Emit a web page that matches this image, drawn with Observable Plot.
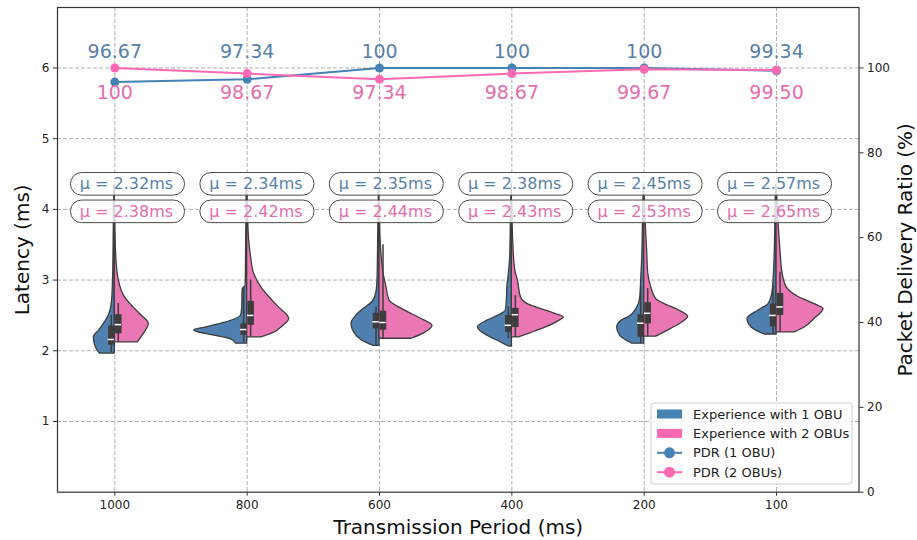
<!DOCTYPE html>
<html>
<head>
<meta charset="utf-8">
<script src="https://cdn.jsdelivr.net/npm/d3@7"></script>
<script src="https://cdn.jsdelivr.net/npm/@observablehq/plot@0.6"></script>
<style>
  html, body { margin: 0; padding: 0; background: #fff; overflow: hidden; }
  #chart { position: relative; width: 917px; height: 540px; }
</style>
</head>
<body>
<div id="chart"></div>
<script>
// ---------------- data ----------------
const periods = ["1000", "800", "600", "400", "200", "100"];
const pdr1 = [96.67, 97.34, 100, 100, 100, 99.34];
const pdr2 = [100, 98.67, 97.34, 98.67, 99.67, 99.50];
const mean1 = [2.32, 2.34, 2.35, 2.38, 2.45, 2.57];
const mean2 = [2.38, 2.42, 2.44, 2.43, 2.53, 2.65];
const latencyTicks = [1, 2, 3, 4, 5, 6];
const pdrTicks = [0, 20, 40, 60, 80, 100];
const legendLabels = ["Experience with 1 OBU", "Experience with 2 OBUs", "PDR (1 OBU)", "PDR (2 OBUs)"];

// box stats: [whisker low, q1, median, q3, whisker high] (ms)
const box1 = [
  [1.97, 2.08, 2.16, 2.35, 2.50],
  [2.12, 2.22, 2.30, 2.38, 2.90],
  [2.08, 2.31, 2.41, 2.53, 2.62],
  [2.17, 2.26, 2.36, 2.50, 2.62],
  [2.10, 2.19, 2.39, 2.51, 2.90],
  [2.23, 2.34, 2.50, 2.66, 2.92]
];
const box2 = [
  [2.12, 2.24, 2.37, 2.51, 2.67],
  [2.20, 2.36, 2.50, 2.70, 3.00],
  [2.17, 2.29, 2.40, 2.56, 3.50],
  [2.19, 2.33, 2.51, 2.60, 2.78],
  [2.20, 2.38, 2.53, 2.68, 2.88],
  [2.26, 2.50, 2.62, 2.81, 3.11]
];

// density profiles: [latency (ms), density]
const kde1 = [
  [[1.96,15],[2.05,19],[2.19,21],[2.29,15.5],[2.38,11],[2.5,6],[2.71,2.7],[3.0,1.8],[3.5,1.2],[4.0,0.8],[4.35,0.4]],
  [[2.10,11],[2.16,16],[2.21,31],[2.27,51],[2.29,53],[2.33,41],[2.39,24],[2.45,11],[2.5,6],[2.6,5],[2.87,4.5],[2.92,1.5],[3.5,1],[4.0,0.7],[4.35,0.4]],
  [[2.07,6],[2.15,18],[2.25,25],[2.38,28],[2.5,23],[2.6,15],[2.69,7],[2.83,3],[3.0,2],[3.4,1.5],[4.0,1],[4.35,0.4]],
  [[2.06,3],[2.12,11],[2.21,24],[2.33,34],[2.43,24],[2.5,13],[2.57,6],[2.71,5],[2.9,4.5],[3.09,3],[3.32,1.7],[3.8,1],[4.35,0.4]],
  [[2.10,12],[2.21,24],[2.33,27],[2.43,22],[2.48,15],[2.61,7],[2.75,4],[3.0,3],[3.3,2],[4.0,1],[4.35,0.4]],
  [[2.23,12],[2.33,25],[2.45,29],[2.57,18],[2.66,8],[2.83,4],[3.0,3],[3.3,2],[4.0,1],[4.35,0.4]]
];
const kde2 = [
  [[2.12,23],[2.24,29],[2.38,34],[2.51,26],[2.61,19],[2.76,10],[3.0,4],[3.32,1.5],[3.75,0.6],[4.0,0.3]],
  [[2.19,14],[2.25,26],[2.35,36],[2.45,42],[2.61,32],[2.76,22],[2.90,14],[3.09,7],[3.32,4],[3.56,2],[3.9,1],[4.2,0.4]],
  [[2.17,32],[2.25,45],[2.35,53],[2.45,42],[2.55,28],[2.61,20],[2.71,10],[2.9,7],[3.1,4],[3.28,2.5],[3.6,1],[4.0,0.5]],
  [[2.19,7],[2.25,19],[2.33,34],[2.42,47],[2.47,52],[2.53,42],[2.6,27],[2.66,16],[2.76,9],[3.0,6],[3.13,3.5],[3.5,1.5],[3.8,0.8],[4.1,0.4]],
  [[2.20,12],[2.31,27],[2.4,38],[2.48,44],[2.57,35],[2.65,22],[2.73,12],[2.9,7],[3.1,4],[3.4,3],[3.8,1.5],[4.2,0.5]],
  [[2.26,18],[2.33,28],[2.45,38],[2.59,47],[2.66,38],[2.76,22],[2.9,10],[3.1,6],[3.4,4],[3.7,2.5],[4.2,0.6]]
];

// ---------------- layout / style ----------------
const W = 917, H = 540;
const mL = 57, mR = 58.5, mT = 7, mB = 48.3;
const xDomain = [-0.433, 5.623];
const yDomain = [0, 6.855];
const ppu = (W - mL - mR) / (xDomain[1] - xDomain[0]); // px per category unit
const K = 6 / 100; // PDR -> latency axis mapping (right axis)

const blueFill = "#4f80b0", pinkFill = "#ea76b4";
const blueLine = "#4682b4", pinkLine = "#ff69b4";
const blueText = "#5a7fa9", pinkText = "#e46dad";
const edge = "#3d3d3d";
const gridStyle = {stroke: "#b0b0b0", strokeOpacity: 1, strokeWidth: 1, strokeDasharray: "4,2"};

const rows = periods.map((p, i) => ({i, p, pdr1: pdr1[i], pdr2: pdr2[i], mean1: mean1[i], mean2: mean2[i]}));
const v1 = kde1.flatMap((prof, i) => prof.map(([v, w]) => ({i, v, w})));
const v2 = kde2.flatMap((prof, i) => prof.map(([v, w]) => ({i, v, w})));
const b1 = box1.map(([lo, q1, med, q3, hi], i) => ({i, lo, q1, med, q3, hi, off: -3.5 / ppu}));
const b2 = box2.map(([lo, q1, med, q3, hi], i) => ({i, lo, q1, med, q3, hi, off: 3.5 / ppu}));
const boxes = b1.concat(b2);

const fmt = v => v === 100 ? "100" : v.toFixed(2);
const labOff = i => (13.2 - 2.94 * i) / ppu;
const row1 = 4.354, row2 = 3.965, halfH = 11.3 / 70.67, halfW = 57 / ppu;

const chart = Plot.plot({
  width: W, height: H,
  marginLeft: mL, marginRight: mR, marginTop: mT, marginBottom: mB,
  x: {type: "linear", domain: xDomain, axis: null},
  y: {type: "linear", domain: yDomain, axis: null},
  style: {fontFamily: "'DejaVu Sans', sans-serif", background: "white", color: "#222"},
  marks: [
    Plot.gridY(latencyTicks, gridStyle),
    Plot.gridX(d3.range(periods.length), gridStyle),
    // violins
    Plot.areaX(v1, {y: "v", x1: d => d.i, x2: d => d.i - d.w / ppu, z: "i", fill: blueFill, stroke: edge, strokeWidth: 1.3, curve: "monotone-y"}),
    Plot.areaX(v2, {y: "v", x1: d => d.i, x2: d => d.i + d.w / ppu, z: "i", fill: pinkFill, stroke: edge, strokeWidth: 1.3, curve: "monotone-y"}),
    // inner boxes
    Plot.ruleX(boxes, {x: d => d.i + d.off, y1: "lo", y2: "hi", stroke: edge, strokeWidth: 1.5}),
    Plot.ruleX(boxes, {x: d => d.i + d.off, y1: "q1", y2: "q3", stroke: edge, strokeWidth: 6.5}),
    Plot.ruleY(boxes, {y: "med", x1: d => d.i + d.off - 3.2 / ppu, x2: d => d.i + d.off + 3.2 / ppu, stroke: "white", strokeWidth: 1.5}),
    // mean label pills
    Plot.rect(rows, {x1: d => d.i + labOff(d.i) - halfW, x2: d => d.i + labOff(d.i) + halfW, y1: () => row1 - halfH, y2: () => row1 + halfH, fill: "white", fillOpacity: 0.8, stroke: "#4a4a4a", strokeWidth: 1}),
    Plot.rect(rows, {x1: d => d.i + labOff(d.i) - halfW, x2: d => d.i + labOff(d.i) + halfW, y1: () => row2 - halfH, y2: () => row2 + halfH, fill: "white", fillOpacity: 0.8, stroke: "#4a4a4a", strokeWidth: 1}),
    Plot.text(rows, {x: d => d.i + labOff(d.i) - 1.5 / ppu, y: () => row1, text: d => `μ = ${d.mean1.toFixed(2)}ms`, fill: blueText, fontSize: 16}),
    Plot.text(rows, {x: d => d.i + labOff(d.i) - 1.5 / ppu, y: () => row2, text: d => `μ = ${d.mean2.toFixed(2)}ms`, fill: pinkText, fontSize: 16}),
    // PDR lines (right axis)
    Plot.line(rows, {x: "i", y: d => d.pdr1 * K, stroke: blueLine, strokeWidth: 2}),
    Plot.dot(rows, {x: "i", y: d => d.pdr1 * K, r: 4.5, fill: blueLine}),
    Plot.line(rows, {x: "i", y: d => d.pdr2 * K, stroke: pinkLine, strokeWidth: 2}),
    Plot.dot(rows, {x: "i", y: d => d.pdr2 * K, r: 4.5, fill: pinkLine}),
    Plot.text(rows, {x: "i", y: () => 103.7 * K, text: d => fmt(d.pdr1), fill: blueText, fontSize: 19}),
    Plot.text(rows, {x: "i", y: () => 94.2 * K, text: d => fmt(d.pdr2), fill: pinkText, fontSize: 19}),
    // axes
    Plot.axisY(latencyTicks, {anchor: "left", tickSize: 4, tickPadding: 4, fontSize: 12, label: null, stroke: "#333", tickFormat: d => String(d)}),
    Plot.axisY(pdrTicks.map(v => v * K), {anchor: "right", tickSize: 4, tickPadding: 4, fontSize: 12, label: null, stroke: "#333", tickFormat: d => String(Math.round(d / K))}),
    Plot.axisX(d3.range(periods.length), {anchor: "bottom", tickSize: 4, tickPadding: 4, fontSize: 12, label: null, stroke: "#333", tickFormat: i => periods[i]}),
    Plot.text(["Transmission Period (ms)"], {frameAnchor: "bottom", dy: 35, text: d => d, fontSize: 20, lineAnchor: "middle", textAnchor: "middle", fill: "#111"}),
    Plot.text(["Latency (ms)"], {frameAnchor: "left", dx: -35, rotate: -90, text: d => d, fontSize: 20, lineAnchor: "middle", textAnchor: "middle", fill: "#111"}),
    Plot.text(["Packet Delivery Ratio (%)"], {frameAnchor: "right", dx: 47, rotate: -90, text: d => d, fontSize: 20, lineAnchor: "middle", textAnchor: "middle", fill: "#111"}),
    Plot.frame({stroke: "#333", strokeWidth: 1.2})
  ]
});

const svg = d3.select(chart);
svg.selectAll('g[aria-label="rect"] rect').attr("rx", 11).attr("ry", 11);

// legend
const lg = svg.append("g").attr("font-family", "'DejaVu Sans', sans-serif").attr("font-size", 13).attr("text-anchor", "start");
lg.append("rect").attr("x", 651).attr("y", 403).attr("width", 201).attr("height", 81)
  .attr("rx", 3).attr("fill", "white").attr("fill-opacity", 0.85).attr("stroke", "#d0d0d0");
const legendColors = [blueLine, pinkLine, blueLine, pinkLine];
legendLabels.forEach((lab, k) => {
  const cy = 414 + k * 19.4;
  if (k < 2) {
    lg.append("rect").attr("x", 657).attr("y", cy - 4.5).attr("width", 25).attr("height", 9).attr("fill", legendColors[k]);
  } else {
    lg.append("line").attr("x1", 657).attr("x2", 682).attr("y1", cy).attr("y2", cy).attr("stroke", legendColors[k]).attr("stroke-width", 2);
    lg.append("circle").attr("cx", 669.5).attr("cy", cy).attr("r", 5.5).attr("fill", legendColors[k]);
  }
  lg.append("text").attr("x", 693).attr("y", cy).attr("dy", "0.35em").attr("text-anchor", "start").attr("fill", "#222").text(lab);
});

document.getElementById("chart").appendChild(chart);
</script>
</body>
</html>
